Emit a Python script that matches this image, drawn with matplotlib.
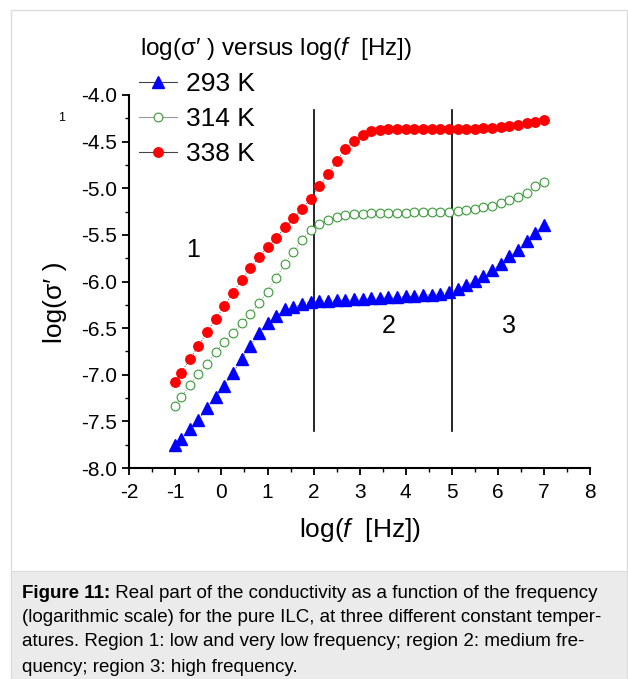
import matplotlib
matplotlib.use("Agg")
import matplotlib.pyplot as plt
from matplotlib.lines import Line2D
from matplotlib.patches import Rectangle

plt.rcParams['font.family'] = ['Liberation Sans', 'DejaVu Sans']
plt.rcParams['mathtext.fontset'] = 'custom'
plt.rcParams['mathtext.rm'] = 'Liberation Sans'
plt.rcParams['mathtext.it'] = 'Liberation Sans:italic'

# ---- data ----
log_f = [-1.0, -0.875, -0.6875, -0.5, -0.3125, -0.125, 0.0625, 0.25, 0.4375, 0.625,
         0.8125, 1.0, 1.1875, 1.375, 1.5625, 1.75, 1.9375, 2.125, 2.3125, 2.5,
         2.6875, 2.875, 3.0625, 3.25, 3.4375, 3.625, 3.8125, 4.0, 4.1875, 4.375,
         4.5625, 4.75, 4.9375, 5.125, 5.3125, 5.5, 5.6875, 5.875, 6.0625, 6.25,
         6.4375, 6.625, 6.8125, 7.0]

sig_293 = [-7.75, -7.69, -7.58, -7.48, -7.36, -7.24, -7.12, -6.98, -6.83, -6.69,
           -6.55, -6.45, -6.37, -6.30, -6.27, -6.24, -6.22, -6.21, -6.21, -6.20,
           -6.20, -6.19, -6.19, -6.18, -6.18, -6.17, -6.17, -6.16, -6.16, -6.15,
           -6.14, -6.13, -6.11, -6.08, -6.04, -5.99, -5.94, -5.88, -5.81, -5.73,
           -5.66, -5.57, -5.48, -5.39]

sig_314 = [-7.33, -7.24, -7.11, -6.99, -6.88, -6.76, -6.65, -6.55, -6.45, -6.35,
           -6.23, -6.11, -5.96, -5.81, -5.68, -5.55, -5.45, -5.38, -5.34, -5.31,
           -5.29, -5.28, -5.28, -5.27, -5.27, -5.27, -5.27, -5.27, -5.26, -5.26,
           -5.26, -5.26, -5.26, -5.24, -5.23, -5.22, -5.20, -5.19, -5.16, -5.13,
           -5.09, -5.05, -4.98, -4.93]

sig_338 = [-7.08, -6.98, -6.83, -6.69, -6.54, -6.40, -6.26, -6.12, -5.98, -5.86,
           -5.74, -5.63, -5.53, -5.42, -5.32, -5.22, -5.11, -4.98, -4.85, -4.71,
           -4.58, -4.49, -4.43, -4.39, -4.375, -4.365, -4.36, -4.36, -4.36, -4.36,
           -4.36, -4.36, -4.36, -4.36, -4.36, -4.36, -4.35, -4.35, -4.34, -4.33,
           -4.32, -4.30, -4.29, -4.27]

labels = ["293 K", "314 K", "338 K"]
region_bounds = [2, 5]
region_labels = ["1", "2", "3"]
region_pos = [(-0.62, -5.66), (3.62, -6.48), (6.24, -6.48)]
xticks = [-2, -1, 0, 1, 2, 3, 4, 5, 6, 7, 8]
yticks = [-8.0, -7.5, -7.0, -6.5, -6.0, -5.5, -5.0, -4.5, -4.0]

caption_bold = "Figure 11:"
caption_lines = [
    " Real part of the conductivity as a function of the frequency",
    "(logarithmic scale) for the pure ILC, at three different constant temper-",
    "atures. Region 1: low and very low frequency; region 2: medium fre-",
    "quency; region 3: high frequency.",
]

W, H = 628, 679
fig = plt.figure(figsize=(W / 100, H / 100), dpi=100)

# panel frame and caption box
fig.patches.append(Rectangle((11 / W, 0), 616 / W, 1 - 10 / H, transform=fig.transFigure,
                             facecolor='white', edgecolor='#dcdcdc', linewidth=1.0, zorder=-2))
fig.patches.append(Rectangle((11 / W, 0), 616 / W, 108 / H, transform=fig.transFigure,
                             facecolor='#ebebeb', edgecolor='#dcdcdc', linewidth=0.8, zorder=-1))

ax = fig.add_axes([129.3 / W, 211 / H, 460.7 / W, 373 / H])
ax.patch.set_alpha(0)

ax.plot(log_f, sig_293, linestyle=':', color='#555555', linewidth=0.7,
        marker='^', markersize=8, markerfacecolor='#0000ff', markeredgecolor='#0000ff', zorder=3)
ax.plot(log_f, sig_314, linestyle=':', color='#888888', linewidth=0.7,
        marker='o', markersize=6.3, markerfacecolor='white', markeredgecolor='#3a9a3a',
        markeredgewidth=0.8, zorder=3)
ax.plot(log_f, sig_338, linestyle=':', color='#555555', linewidth=0.7,
        marker='o', markersize=6.8, markerfacecolor='#ff0000', markeredgecolor='#ff0000', zorder=3)

for xb in region_bounds:
    ax.plot([xb, xb], [-7.6, -4.16], color='black', linewidth=1.2, zorder=2)

for lab, (xx, yy) in zip(region_labels, region_pos):
    ax.text(xx, yy, lab, fontsize=18, ha='center', va='center')

ax.set_xlim(-2, 8)
ax.set_ylim(-8, -4)
ax.set_xticks(xticks)
ax.set_yticks(yticks)
ax.set_xticklabels([str(t) for t in xticks])
ax.set_yticklabels(["%.1f" % t for t in yticks])
ax.set_xticks([t + 0.5 for t in xticks[:-1]], minor=True)
ax.set_yticks([t + 0.25 for t in yticks[:-1]], minor=True)
for s in ['top', 'right']:
    ax.spines[s].set_visible(False)
for s in ['left', 'bottom']:
    ax.spines[s].set_linewidth(1.5)
ax.tick_params(axis='both', which='major', direction='out', length=5, width=1.3,
               labelsize=15, pad=4)
ax.tick_params(axis='x', which='major', pad=6)
ax.tick_params(axis='both', which='minor', direction='out', length=3, width=1.0)

ax.set_xlabel("log($f$  [Hz])", fontsize=19, labelpad=10)
ax.set_ylabel("log(σ\u2032 )", fontsize=19, va='center')
ax.yaxis.set_label_coords((55 - 129.3) / 460.7, (468 - 302) / 373)

fig.text(140 / W, 1 - 48 / H, "log(σ\u2032 ) versus log($f$  [Hz])", fontsize=17.5,
         ha='left', va='center')
fig.text(62 / W, 1 - 118 / H, "1", fontsize=9, ha='center', va='center')

handles = [
    Line2D([], [], color='#444444', linewidth=0.8, marker='^', markersize=8,
           markerfacecolor='#0000ff', markeredgecolor='#0000ff'),
    Line2D([], [], color='#999999', linewidth=0.8, marker='o', markersize=6.3,
           markerfacecolor='white', markeredgecolor='#3a9a3a', markeredgewidth=0.8),
    Line2D([], [], color='#444444', linewidth=0.8, marker='o', markersize=6.8,
           markerfacecolor='#ff0000', markeredgecolor='#ff0000'),
]
fig.legend(handles, labels, loc='upper left', bbox_to_anchor=(139 / W, 1 - 72 / H),
           bbox_transform=fig.transFigure, frameon=False, fontsize=19,
           handlelength=1.45, handletextpad=0.35, labelspacing=0.42,
           borderpad=0, borderaxespad=0)

# caption
cap_y = [593, 618, 642, 667]
cap_fs = 13.5
fig.canvas.draw()
r = fig.canvas.get_renderer()
tb = fig.text(22 / W, 1 - cap_y[0] / H, caption_bold, fontsize=cap_fs, fontweight='bold',
              ha='left', va='center')
bb = tb.get_window_extent(renderer=r)
fig.text(bb.x1 / W, 1 - cap_y[0] / H, caption_lines[0], fontsize=cap_fs, ha='left', va='center')
for line, yy in zip(caption_lines[1:], cap_y[1:]):
    fig.text(22 / W, 1 - yy / H, line, fontsize=cap_fs, ha='left', va='center')

fig.savefig("out.png", dpi=100)
